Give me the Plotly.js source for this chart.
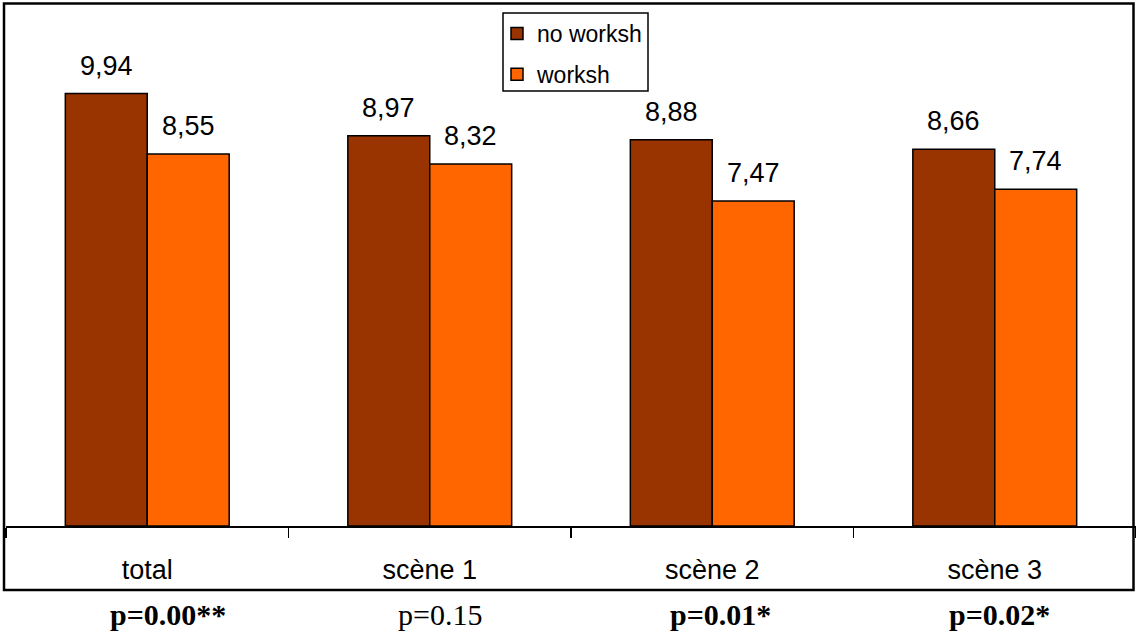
<!DOCTYPE html>
<html>
<head>
<meta charset="utf-8">
<script src="https://cdn.plot.ly/plotly-3.0.1.min.js"></script>
<style>
html,body{margin:0;padding:0;background:#fff;}
#chart{width:1136px;height:640px;}
</style>
</head>
<body>
<div id="chart"></div>
<script>
// ---- data ----
const categories = ["total", "scène 1", "scène 2", "scène 3"];
const noWorkshop = [9.94, 8.97, 8.88, 8.66];
const workshop = [8.55, 8.32, 7.47, 7.74];
const seriesNames = ["no worksh", "worksh"];
const pValues = [0.00, 0.15, 0.01, 0.02];
const pLabels = ["p=0.00**", "p=0.15", "p=0.01*", "p=0.02*"];

// ---- styles / layout ----
const W = 1136, H = 640;
const mL = 6, mR = 0, mT = 4, mB = 114;
const plotW = W - mL - mR, plotH = H - mT - mB;
const colors = ["#993300", "#FF6600"];
const sans = "Liberation Sans, Arial, sans-serif";
const serif = "Liberation Serif, Times New Roman, serif";
const barHalf = 41; // px offset of each bar centre from category centre

const traces = [noWorkshop, workshop].map((vals, i) => ({
  type: "bar",
  name: seriesNames[i],
  legendgroup: "g" + i,
  x: categories,
  y: vals,
  marker: {color: colors[i], line: {color: "#000", width: 1.5}},
  hoverinfo: "skip"
}));

const annotations = [];
[noWorkshop, workshop].forEach((vals, i) => {
  vals.forEach((v, j) => {
    annotations.push({
      xref: "x", yref: "y", x: categories[j], y: v,
      xshift: (i === 0 ? -barHalf : barHalf), yshift: 11,
      yanchor: "bottom", xanchor: "center", showarrow: false,
      text: v.toFixed(2).replace(".", ","),
      font: {family: sans, size: 27, color: "#000"}
    });
  });
});
const pShift = [21, 10, 8, 5];
pLabels.forEach((t, j) => {
  const sig = pValues[j] < 0.05;
  annotations.push({
    xref: "x", yref: "paper", x: categories[j], y: -(615 - (H - mB)) / plotH,
    xshift: pShift[j], yanchor: "middle", xanchor: "center", showarrow: false,
    text: sig ? "<b>" + t + "</b>" : t,
    font: {family: serif, size: 30, color: "#000"}
  });
});

const px = x => (x - mL) / plotW;
const py = y => (H - mB - y) / plotH;

const layout = {
  width: W, height: H,
  margin: {l: mL, r: mR, t: mT, b: mB, pad: 0},
  paper_bgcolor: "#fff", plot_bgcolor: "#fff",
  showlegend: true,
  barmode: "group",
  bargap: 0.42,
  bargroupgap: 0,
  xaxis: {
    type: "category",
    showline: true, linecolor: "#000", linewidth: 1.5,
    ticks: "outside", tickson: "boundaries", ticklen: 10, tickcolor: "#000", tickwidth: 1.5,
    tickfont: {family: sans, size: 27, color: "#000"},
    ticklabelstandoff: 19,
    showgrid: false, zeroline: false, fixedrange: true
  },
  yaxis: {range: [0, 12], visible: false, fixedrange: true},
  legend: {
    x: px(497), y: py(12), xanchor: "left", yanchor: "top",
    bgcolor: "rgba(0,0,0,0)", borderwidth: 0,
    font: {family: sans, size: 23, color: "#000"},
    traceorder: "grouped",
    itemwidth: 30, tracegroupgap: 8
  },
  shapes: [
    {
      type: "rect", xref: "paper", yref: "paper",
      x0: px(503), x1: px(648), y0: py(91), y1: py(13),
      line: {color: "#000", width: 1.5}, fillcolor: "#fff", layer: "below"
    },
    {
      type: "rect", xref: "paper", yref: "paper",
      x0: px(4), x1: px(1133.5), y0: py(590), y1: py(3.5),
      line: {color: "#000", width: 2.5}, fillcolor: "rgba(0,0,0,0)", layer: "above"
    }
  ],
  annotations: annotations
};

Plotly.newPlot("chart", traces, layout, {displayModeBar: false, staticPlot: true});
</script>
</body>
</html>
